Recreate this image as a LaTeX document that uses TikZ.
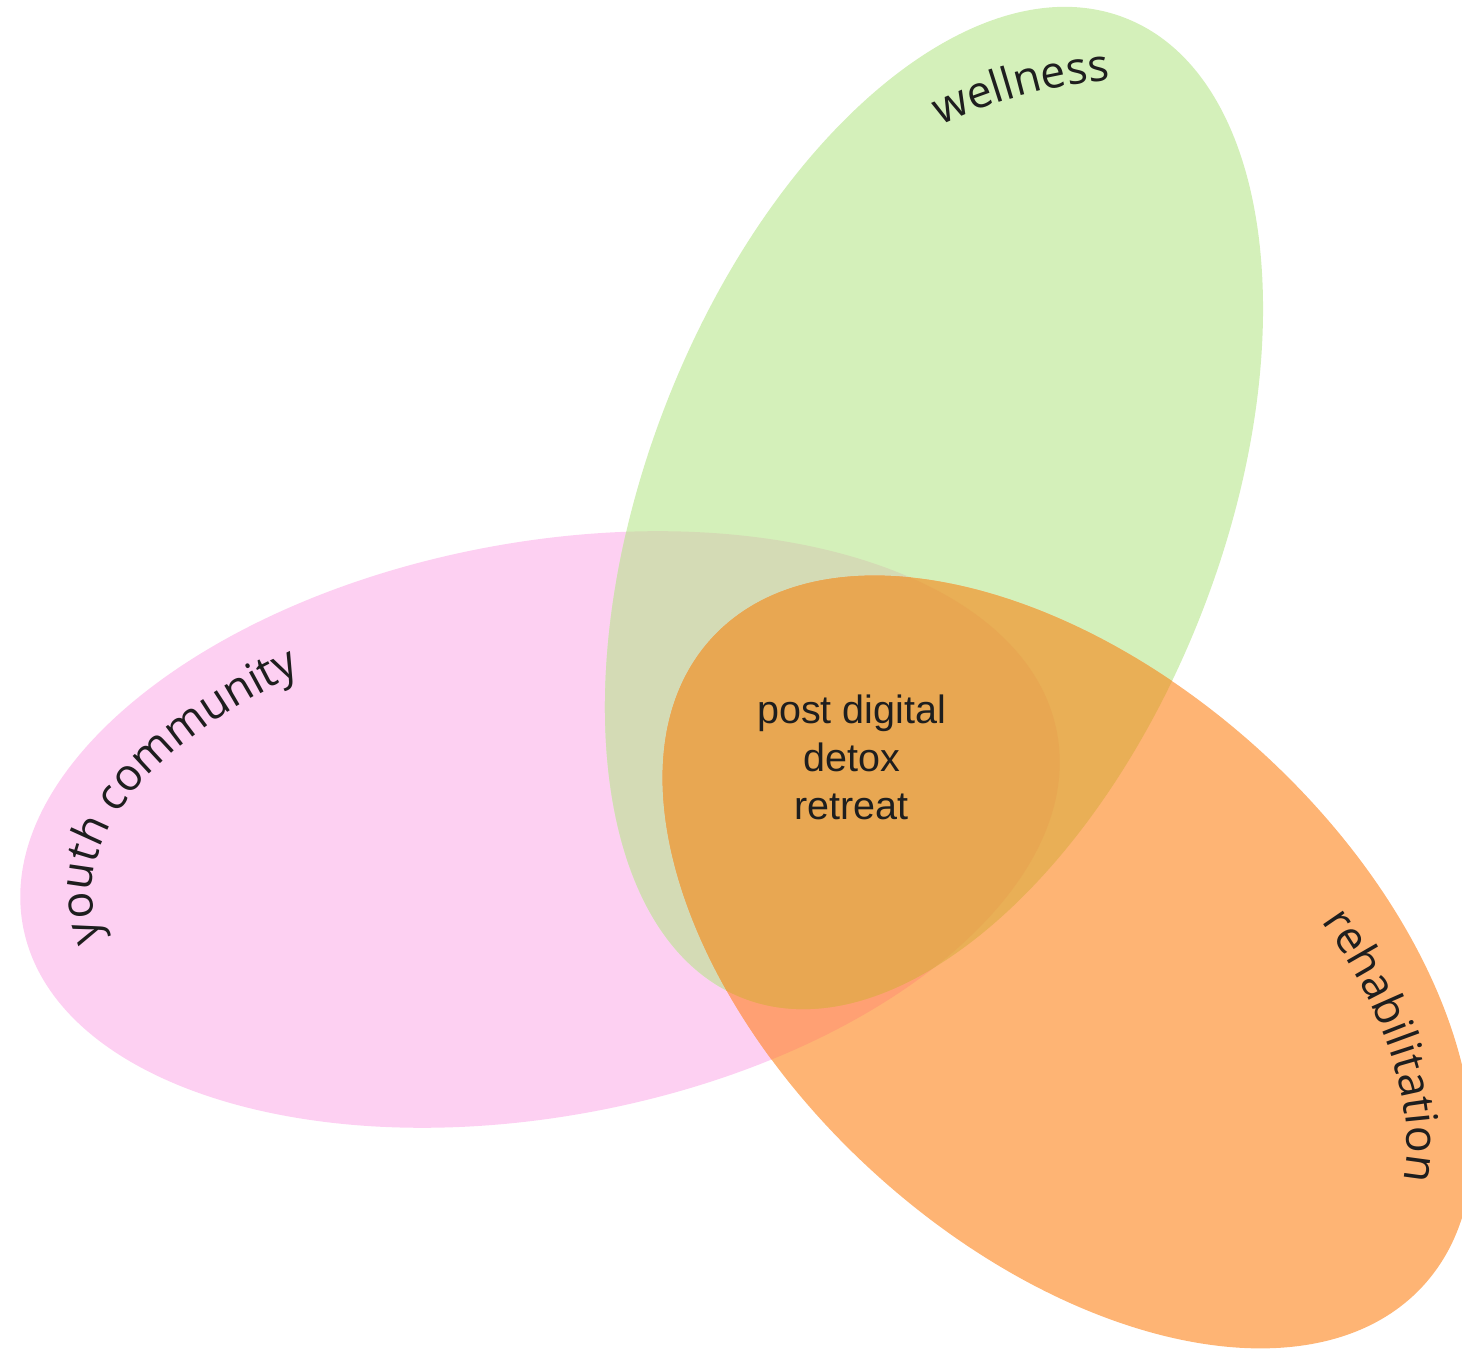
\documentclass[tikz,border=0pt]{standalone}
\usepackage{fontspec}
\setmainfont{Liberation Sans}
\newfontfamily\lblfont{Open Sans}
\usetikzlibrary{decorations.text}
\definecolor{pinkC}{HTML}{FDD0F2}
\definecolor{greenC}{HTML}{D4F0BA}
\definecolor{orangeC}{HTML}{FEB474}
\definecolor{pgC}{HTML}{D4DBB5}
\definecolor{poC}{HTML}{FFA073}
\definecolor{goC}{HTML}{E9AF56}
\definecolor{pgoC}{HTML}{E8A752}
\definecolor{txtC}{HTML}{1E1E1E}
\newcommand\pinkpath{(540,519.5) ellipse [x radius=526pt, y radius=287pt]}
\newcommand\greenpath{(934,841) ellipse [x radius=526pt, y radius=287.5pt]}
\newcommand\orangepath{(1067.5,387) ellipse [x radius=481pt, y radius=286pt]}
\newcommand\lblfmt{\lblfont\fontsize{44.5}{54}\selectfont\color{txtC}}
\tikzset{
  rotP/.style={rotate around={10.6:(540,519.5)}},
  rotG/.style={rotate around={68.7:(934,841)}},
  rotO/.style={rotate around={-42.2:(1067.5,387)}},
  curvelbl/.style={decorate, decoration={text along path, text align=left, text={|\lblfmt|#1}}},
  centertxt/.style={anchor=base, text=txtC, font=\fontsize{39.5}{47.5}\selectfont, inner sep=0pt}
}
\begin{document}
\begin{tikzpicture}[x=1pt,y=1pt]
\useasboundingbox (0,0) rectangle (1462,1349);
\clip (0,0) rectangle (1462,1349);
% base ellipses
\fill[pinkC, rotP] \pinkpath;
\fill[greenC, rotG] \greenpath;
\fill[orangeC, rotO] \orangepath;
% pairwise overlaps
\begin{scope}
  \clip[rotP] \pinkpath;
  \fill[pgC, rotG] \greenpath;
\end{scope}
\begin{scope}
  \clip[rotP] \pinkpath;
  \fill[poC, rotO] \orangepath;
\end{scope}
\begin{scope}
  \clip[rotG] \greenpath;
  \fill[goC, rotO] \orangepath;
\end{scope}
% triple overlap
\begin{scope}
  \clip[rotP] \pinkpath;
  \clip[rotG] \greenpath;
  \fill[pgoC, rotO] \orangepath;
\end{scope}
% curved labels
\path[curvelbl={wellness}] plot[domain=0:60, samples=120, variable=\t]
  ({1153.5 + 500*cos(115.2-\t)}, {771 + 500*sin(115.2-\t)});
\path[curvelbl={youth community}] plot[domain=0:150, samples=160, variable=\t]
  ({540 + 454*cos(187-\t)*cos(10.6) - 222*sin(187-\t)*sin(10.6)},
   {519.5 + 454*cos(187-\t)*sin(10.6) + 222*sin(187-\t)*cos(10.6)});
\path[curvelbl={rehabilitation}] plot[domain=0:110, samples=140, variable=\t]
  ({1067.5 + 413*cos(67-\t)*cos(-42.2) - 218*sin(67-\t)*sin(-42.2)},
   {387 + 413*cos(67-\t)*sin(-42.2) + 218*sin(67-\t)*cos(-42.2)});
% centre text
\node[centertxt] (l1) at (851.5,625) {post digital};
\node[centertxt] (l2) at (851.5,577) {detox};
\node[centertxt] (l3) at (851.5,529) {retreat};
\end{tikzpicture}
\end{document}
